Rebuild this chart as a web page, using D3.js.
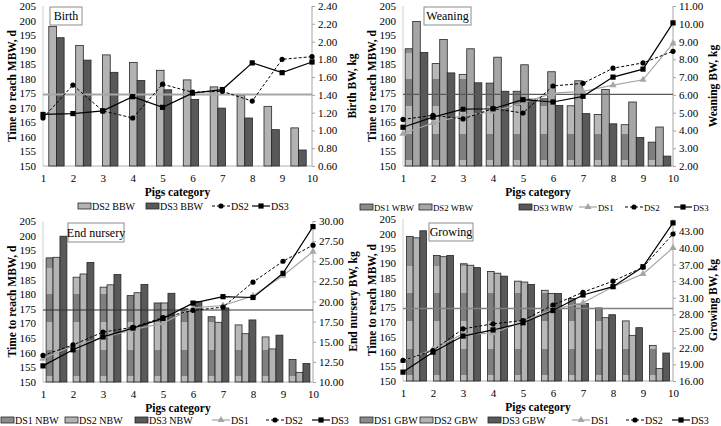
<!DOCTYPE html>
<html>
<head>
<meta charset="utf-8">
<script src="https://cdn.jsdelivr.net/npm/d3@7"></script>
<style>
body { margin: 0; background: #fff; }
text { font-family: "Liberation Serif", "Times New Roman", serif; fill: #000; }
</style>
</head>
<body>
<svg id="chart" width="721" height="426"></svg>
<script>
// pig categories (x axis)
const categories = [1, 2, 3, 4, 5, 6, 7, 8, 9, 10];
const leftTicks = [150, 155, 160, 165, 170, 175, 180, 185, 190, 195, 200, 205];
const mbwLine = 174.6;

// Birth
const birthDS2Bar = [198.0, 191.4, 188.2, 185.6, 182.9, 179.6, 177.2, 174.4, 170.5, 163.1];
const birthDS3Bar = [194.1, 186.4, 182.2, 179.4, 176.2, 172.9, 169.9, 166.5, 162.5, 155.5];
const birthDS2 = [1.14, 1.51, 1.22, 1.14, 1.52, 1.43, 1.44, 1.33, 1.80, 1.83];
const birthDS3 = [1.18, 1.19, 1.22, 1.38, 1.26, 1.42, 1.46, 1.76, 1.65, 1.77];
const birthTicks = [0.6, 0.8, 1.0, 1.2, 1.4, 1.6, 1.8, 2.0, 2.2, 2.4];

// Weaning
const weanDS1Bar = [190.3, 185.2, 181.5, 178.5, 175.7, 173.1, 170.7, 167.7, 164.2, 158.2];
const weanDS2Bar = [199.7, 193.5, 190.3, 187.4, 184.8, 182.4, 179.3, 176.3, 172.0, 163.4];
const weanDS3Bar = [189.0, 182.0, 178.6, 175.7, 173.0, 170.8, 168.0, 164.5, 159.8, 153.4];
const weanDS1 = [3.82, 4.42, 4.85, 5.05, 5.55, 6.10, 6.20, 6.55, 6.85, 8.90];
const weanDS2 = [4.62, 4.85, 4.65, 5.23, 4.98, 6.50, 6.65, 7.50, 7.80, 8.45];
const weanDS3 = [4.18, 4.75, 5.20, 5.22, 5.73, 5.60, 5.92, 7.00, 7.45, 10.05];
const weanTicks = [2, 3, 4, 5, 6, 7, 8, 9, 10, 11];

// End nursery
const nurDS1Bar = [192.4, 185.8, 182.4, 179.5, 177.0, 175.0, 172.3, 169.5, 165.4, 157.7];
const nurDS2Bar = [192.6, 186.9, 183.2, 180.5, 177.0, 174.2, 170.4, 166.5, 161.3, 153.3];
const nurDS3Bar = [199.8, 190.8, 186.7, 183.3, 180.3, 177.5, 175.3, 171.2, 166.0, 156.3];
const nurDS1 = [12.9, 14.5, 15.5, 16.5, 17.3, 19.2, 19.5, 20.7, 23.2, 26.2];
const nurDS2 = [13.3, 14.6, 16.2, 16.8, 18.0, 18.9, 19.3, 22.4, 25.0, 27.0];
const nurDS3 = [12.0, 14.0, 15.6, 16.7, 17.9, 19.8, 20.6, 20.5, 23.5, 29.3];
const nurTicks = [10, 12.5, 15, 17.5, 20, 22.5, 25, 27.5, 30];

// Growing
const growDS1Bar = [199.1, 192.6, 189.8, 187.2, 183.9, 180.8, 178.0, 174.8, 170.4, 162.1];
const growDS2Bar = [198.6, 192.2, 189.3, 186.6, 183.6, 179.7, 176.1, 171.5, 165.5, 154.2];
const growDS3Bar = [201.0, 192.6, 188.5, 185.6, 182.8, 179.7, 176.3, 172.5, 168.1, 159.5];
const growDS1 = [19.6, 21.7, 24.5, 24.6, 26.7, 28.9, 30.1, 33.0, 35.3, 40.0];
const growDS2 = [19.7, 21.5, 25.4, 26.3, 26.9, 29.7, 32.0, 34.0, 36.5, 42.5];
const growDS3 = [17.6, 21.2, 24.1, 25.2, 26.5, 28.7, 31.5, 33.0, 36.6, 44.5];
const growTicks = [16, 19, 22, 25, 28, 31, 34, 37, 40, 43];

const svg = d3.select("#chart");
const defs = svg.append("defs");

const panels = [
  { id: "birth", title: "Birth", rTitle: "Birth BW, kg", x0: 43, x1: 312, yTop: 6, yBot: 166,
    rDomain: [0.6, 2.4], rTicks: birthTicks, pad: 0.43,
    bars: [["DS2", birthDS2Bar], ["DS3", birthDS3Bar]],
    lines: [["DS2", birthDS2], ["DS3", birthDS3]],
    barLabel: "BBW", refColor: "#a6a6a6", refWidth: 2, legendY: 206, legendFont: 10,
    legendAt: [78, 146, 212, 252], box: [50, 7, 32, 18] },
  { id: "wean", title: "Weaning", rTitle: "Weaning BW, kg", x0: 403, x1: 673, yTop: 6, yBot: 166,
    rDomain: [2, 11], rTicks: weanTicks, pad: 0.16,
    bars: [["DS1", weanDS1Bar], ["DS2", weanDS2Bar], ["DS3", weanDS3Bar]],
    lines: [["DS1", weanDS1], ["DS2", weanDS2], ["DS3", weanDS3]],
    barLabel: "WBW", refColor: "#595959", refWidth: 1.3, legendY: 207, legendFont: 8.8,
    legendAt: [360, 419, 519, 579, 625, 674], box: [424, 7, 47, 18] },
  { id: "nur", title: "End nursery", rTitle: "End nursery BW, kg", x0: 43, x1: 313, yTop: 221, yBot: 382,
    rDomain: [10, 30], rTicks: nurTicks, pad: 0.23,
    bars: [["DS1", nurDS1Bar], ["DS2", nurDS2Bar], ["DS3", nurDS3Bar]],
    lines: [["DS1", nurDS1], ["DS2", nurDS2], ["DS3", nurDS3]],
    barLabel: "NBW", refColor: "#333", refWidth: 1.1, legendY: 420, legendFont: 10,
    legendAt: [1, 65, 135, 212, 266, 312], box: [68, 223, 56, 19] },
  { id: "grow", title: "Growing", rTitle: "Growing BW, kg", x0: 403, x1: 673, yTop: 219, yBot: 381,
    rDomain: [16, 45.2], rTicks: growTicks, pad: 0.26,
    bars: [["DS1", growDS1Bar], ["DS2", growDS2Bar], ["DS3", growDS3Bar]],
    lines: [["DS1", growDS1], ["DS2", growDS2], ["DS3", growDS3]],
    barLabel: "GBW", refColor: "#808080", refWidth: 1.6, legendY: 420, legendFont: 10,
    legendAt: [360, 420, 488, 572, 626, 672], box: [429, 223, 44, 18] }
];

// banded grey fill used by the DS1 bars
const bandStops = [[150, "#b8b8b8"], [152, "#7f7f7f"], [161, "#b8b8b8"], [170.5, "#7f7f7f"],
                   [180, "#b8b8b8"], [189, "#8c8c8c"], [205, "#8c8c8c"]];

function marker(sel, key, cx, cy) {
  if (key === "DS1") {
    sel.append("path").attr("d", d3.symbol(d3.symbolTriangle, 22)())
      .attr("transform", `translate(${cx},${cy})`).attr("fill", "#a6a6a6");
  } else if (key === "DS2") {
    sel.append("circle").attr("cx", cx).attr("cy", cy).attr("r", 2.6).attr("fill", "#000");
  } else {
    sel.append("rect").attr("x", cx - 2.6).attr("y", cy - 2.6).attr("width", 5.2).attr("height", 5.2).attr("fill", "#000");
  }
}
const lineStyle = {
  DS1: { stroke: "#a6a6a6", dash: null, w: 1.2 },
  DS2: { stroke: "#000", dash: "3,2", w: 1 },
  DS3: { stroke: "#000", dash: null, w: 1.2 }
};

function drawPanel(p) {
  const g = svg.append("g");
  const x = d3.scalePoint().domain(categories).range([p.x0, p.x1]);
  const xb = d3.scaleBand().domain(categories).range([p.x0, p.x1])
    .paddingInner(p.pad).paddingOuter(p.pad / 2);
  const xs = d3.scaleBand().domain(p.bars.map(b => b[0])).range([0, xb.bandwidth()]);
  const yL = d3.scaleLinear().domain([150, 205]).range([p.yBot, p.yTop]);
  const yR = d3.scaleLinear().domain(p.rDomain).range([p.yBot, p.yTop]);

  const grad = defs.append("linearGradient").attr("id", "band-" + p.id)
    .attr("gradientUnits", "userSpaceOnUse")
    .attr("x1", 0).attr("x2", 0).attr("y1", yL(150)).attr("y2", yL(205));
  bandStops.forEach((s, i) => {
    const off = (s[0] - 150) / 55;
    if (i > 0) grad.append("stop").attr("offset", off).attr("stop-color", bandStops[i - 1][1]);
    grad.append("stop").attr("offset", off).attr("stop-color", s[1]);
  });
  const fills = { DS1: `url(#band-${p.id})`, DS2: "#b3b3b3", DS3: "#595959" };
  if (p.id === "wean") fills.DS2 = "#a6a6a6";

  // axes
  g.append("line").attr("x1", p.x0).attr("x2", p.x0).attr("y1", p.yTop).attr("y2", p.yBot)
    .attr("stroke", "#d0d0d0");
  g.append("line").attr("x1", p.x0).attr("x2", p.x1).attr("y1", p.yBot).attr("y2", p.yBot)
    .attr("stroke", "#b0b0b0");

  const la = g.append("g").attr("transform", `translate(${p.x0},0)`)
    .call(d3.axisLeft(yL).tickValues(leftTicks).tickSize(0).tickPadding(7));
  la.select(".domain").remove();
  la.selectAll("text").style("font-size", "11px").style("font-family", "Liberation Serif");

  const ra = g.append("g").attr("transform", `translate(${p.x1},0)`)
    .call(d3.axisRight(yR).tickValues(p.rTicks).tickFormat(d3.format(".2f")).tickSize(3).tickPadding(3));
  ra.select(".domain").attr("stroke", "#a6a6a6").attr("d", `M0,${p.yTop}V${p.yBot}`);
  ra.selectAll("line").attr("stroke", "#a6a6a6");
  ra.selectAll("text").style("font-size", "11px").style("font-family", "Liberation Serif");

  const xa = g.append("g").attr("transform", `translate(0,${p.yBot})`)
    .call(d3.axisBottom(x).tickSize(0).tickPadding(8));
  xa.select(".domain").remove();
  xa.selectAll("text").style("font-size", "11px").style("font-family", "Liberation Serif");

  // bars
  p.bars.forEach(([key, vals]) => {
    g.append("g").selectAll("rect").data(vals).enter().append("rect")
      .attr("x", (d, i) => xb(categories[i]) + xs(key))
      .attr("width", xs.bandwidth())
      .attr("y", d => yL(d))
      .attr("height", d => yL(150) - yL(d))
      .attr("fill", fills[key])
      .attr("stroke", "#262626").attr("stroke-width", 0.8);
  });

  // MBW reference line
  g.append("line").attr("x1", p.x0).attr("x2", p.x1)
    .attr("y1", yL(mbwLine)).attr("y2", yL(mbwLine))
    .attr("stroke", p.refColor).attr("stroke-width", p.refWidth);

  // lines
  p.lines.forEach(([key, vals]) => {
    const st = lineStyle[key];
    const line = d3.line().x((d, i) => x(categories[i])).y(d => yR(d));
    g.append("path").attr("d", line(vals)).attr("fill", "none")
      .attr("stroke", st.stroke).attr("stroke-width", st.w)
      .attr("stroke-dasharray", st.dash);
    const mg = g.append("g");
    vals.forEach((d, i) => marker(mg, key, x(categories[i]), yR(d)));
  });

  // titles
  const midY = (p.yTop + p.yBot) / 2;
  g.append("text").attr("transform", `translate(${p.x0 - 27},${midY}) rotate(-90)`)
    .attr("text-anchor", "middle").style("font-size", "11.5px").style("font-weight", "bold")
    .text("Time to reach MBW, d");
  g.append("text").attr("transform", `translate(${p.x1 + 44},${midY}) rotate(-90)`)
    .attr("text-anchor", "middle").style("font-size", "11.5px").style("font-weight", "bold")
    .text(p.rTitle);
  g.append("text").attr("x", (p.x0 + p.x1) / 2).attr("y", p.yBot + 30)
    .attr("text-anchor", "middle").style("font-size", "11.5px").style("font-weight", "bold")
    .text("Pigs category");

  // panel label box
  const [bx, by, bw, bh] = p.box;
  g.append("rect").attr("x", bx).attr("y", by).attr("width", bw).attr("height", bh)
    .attr("fill", "#fff").attr("stroke", "#8c8c8c");
  g.append("text").attr("x", bx + bw / 2).attr("y", by + bh / 2 + 4)
    .attr("text-anchor", "middle").style("font-size", "12px").text(p.title);

  // legend
  const lg = g.append("g");
  const ly = p.legendY;
  const items = p.bars.map(b => ["bar", b[0]]).concat(p.lines.map(l => ["line", l[0]]));
  items.forEach(([type, key], i) => {
    const lx = p.legendAt[i];
    if (type === "bar") {
      lg.append("rect").attr("x", lx).attr("y", ly - 3).attr("width", 13).attr("height", 6)
        .attr("fill", key === "DS1" ? "#8c8c8c" : fills[key]).attr("stroke", "#262626").attr("stroke-width", 0.8);
      lg.append("text").attr("x", lx + 14).attr("y", ly + 3.5).style("font-size", p.legendFont + "px")
        .text(`${key} ${p.barLabel}`);
    } else {
      const st = lineStyle[key];
      lg.append("line").attr("x1", lx).attr("x2", lx + 18).attr("y1", ly).attr("y2", ly)
        .attr("stroke", st.stroke).attr("stroke-width", st.w).attr("stroke-dasharray", st.dash);
      marker(lg, key, lx + 9, ly);
      lg.append("text").attr("x", lx + 19).attr("y", ly + 3.5).style("font-size", p.legendFont + "px").text(key);
    }
  });
}

panels.forEach(drawPanel);
</script>
</body>
</html>
